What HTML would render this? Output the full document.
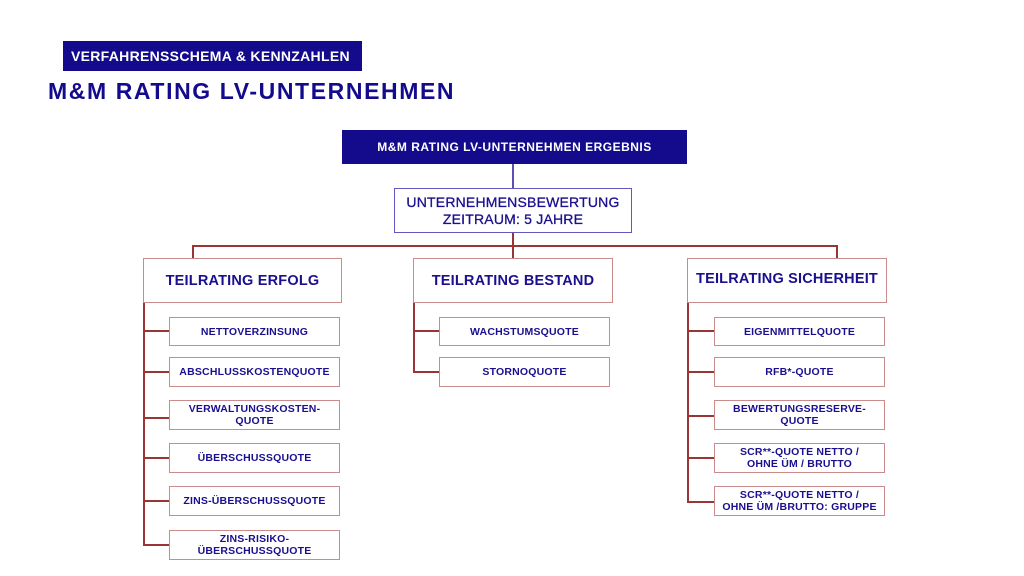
<!DOCTYPE html>
<html><head><meta charset="utf-8"><style>
body{margin:0;width:1024px;height:576px;background:#fff;position:relative;overflow:hidden;font-family:"Liberation Sans",sans-serif;color:#1a0f8f}
div{position:absolute;box-sizing:border-box}
.b{border:1.5px solid #c98b8b;background:#fff;display:flex;align-items:center;justify-content:center;text-align:center;font-weight:bold;font-size:10.5px;line-height:12px;letter-spacing:0.2px}
.h{font-size:14.5px;font-weight:bold;letter-spacing:0.2px}
.l{background:#9a3535}
</style></head><body>
<div style="left:63px;top:41px;width:299px;height:30px;background:#130a8c;color:#fff;font-weight:bold;font-size:14px;display:flex;align-items:center;padding-left:8px;letter-spacing:0.3px">VERFAHRENSSCHEMA &amp; KENNZAHLEN</div>
<div style="left:48px;top:78px;font-size:23px;font-weight:bold;letter-spacing:1.6px;color:#130a8c">M&amp;M RATING LV-UNTERNEHMEN</div>
<div style="left:342px;top:130px;width:345px;height:34px;background:#130a8c;color:#fff;font-weight:bold;font-size:12px;letter-spacing:0.5px;display:flex;align-items:center;justify-content:center">M&amp;M RATING LV-UNTERNEHMEN ERGEBNIS</div>
<div style="left:512px;top:164px;width:2px;height:24px;background:#5a50b0"></div>
<div class="b" style="left:394px;top:188px;width:238px;height:45px;border-color:#6258c0;font-size:14px;line-height:17px;font-weight:normal;-webkit-text-stroke:0.3px">UNTERNEHMENSBEWERTUNG<br>ZEITRAUM: 5 JAHRE</div>
<div class="l" style="left:512px;top:233px;width:2px;height:25px"></div>
<div class="l" style="left:192px;top:245px;width:646px;height:2px"></div>
<div class="l" style="left:192px;top:245px;width:2px;height:13px"></div>
<div class="l" style="left:836px;top:245px;width:2px;height:13px"></div>
<div class="l" style="left:143px;top:302px;width:2px;height:243px"></div>
<div class="l" style="left:413px;top:302px;width:2px;height:70px"></div>
<div class="l" style="left:687px;top:302px;width:2px;height:200px"></div>
<div class="b h" style="left:143px;top:258px;width:199px;height:45px">TEILRATING ERFOLG</div>
<div class="b h" style="left:413px;top:258px;width:200px;height:45px">TEILRATING BESTAND</div>
<div class="b h" style="left:687px;top:258px;width:200px;height:45px;padding-bottom:4px">TEILRATING SICHERHEIT</div>
<div class="l" style="left:143px;top:330px;width:27px;height:2px"></div>
<div class="l" style="left:143px;top:371px;width:27px;height:2px"></div>
<div class="l" style="left:143px;top:417px;width:27px;height:2px"></div>
<div class="l" style="left:143px;top:457px;width:27px;height:2px"></div>
<div class="l" style="left:143px;top:500px;width:27px;height:2px"></div>
<div class="l" style="left:143px;top:544px;width:27px;height:2px"></div>
<div class="b" style="left:169px;top:317px;width:171px;height:29px">NETTOVERZINSUNG</div>
<div class="b" style="left:169px;top:357px;width:171px;height:30px">ABSCHLUSSKOSTENQUOTE</div>
<div class="b" style="left:169px;top:400px;width:171px;height:30px">VERWALTUNGSKOSTEN-<br>QUOTE</div>
<div class="b" style="left:169px;top:443px;width:171px;height:30px">ÜBERSCHUSSQUOTE</div>
<div class="b" style="left:169px;top:486px;width:171px;height:30px">ZINS-ÜBERSCHUSSQUOTE</div>
<div class="b" style="left:169px;top:530px;width:171px;height:30px">ZINS-RISIKO-<br>ÜBERSCHUSSQUOTE</div>
<div class="l" style="left:413px;top:330px;width:27px;height:2px"></div>
<div class="l" style="left:413px;top:371px;width:27px;height:2px"></div>
<div class="b" style="left:439px;top:317px;width:171px;height:29px">WACHSTUMSQUOTE</div>
<div class="b" style="left:439px;top:357px;width:171px;height:30px">STORNOQUOTE</div>
<div class="l" style="left:687px;top:330px;width:27px;height:2px"></div>
<div class="l" style="left:687px;top:371px;width:27px;height:2px"></div>
<div class="l" style="left:687px;top:415px;width:27px;height:2px"></div>
<div class="l" style="left:687px;top:457px;width:27px;height:2px"></div>
<div class="l" style="left:687px;top:501px;width:27px;height:2px"></div>
<div class="b" style="left:714px;top:317px;width:171px;height:29px">EIGENMITTELQUOTE</div>
<div class="b" style="left:714px;top:357px;width:171px;height:30px">RFB*-QUOTE</div>
<div class="b" style="left:714px;top:400px;width:171px;height:30px">BEWERTUNGSRESERVE-<br>QUOTE</div>
<div class="b" style="left:714px;top:443px;width:171px;height:30px">SCR**-QUOTE NETTO /<br>OHNE ÜM / BRUTTO</div>
<div class="b" style="left:714px;top:486px;width:171px;height:30px">SCR**-QUOTE NETTO /<br>OHNE ÜM /BRUTTO: GRUPPE</div>
</body></html>
